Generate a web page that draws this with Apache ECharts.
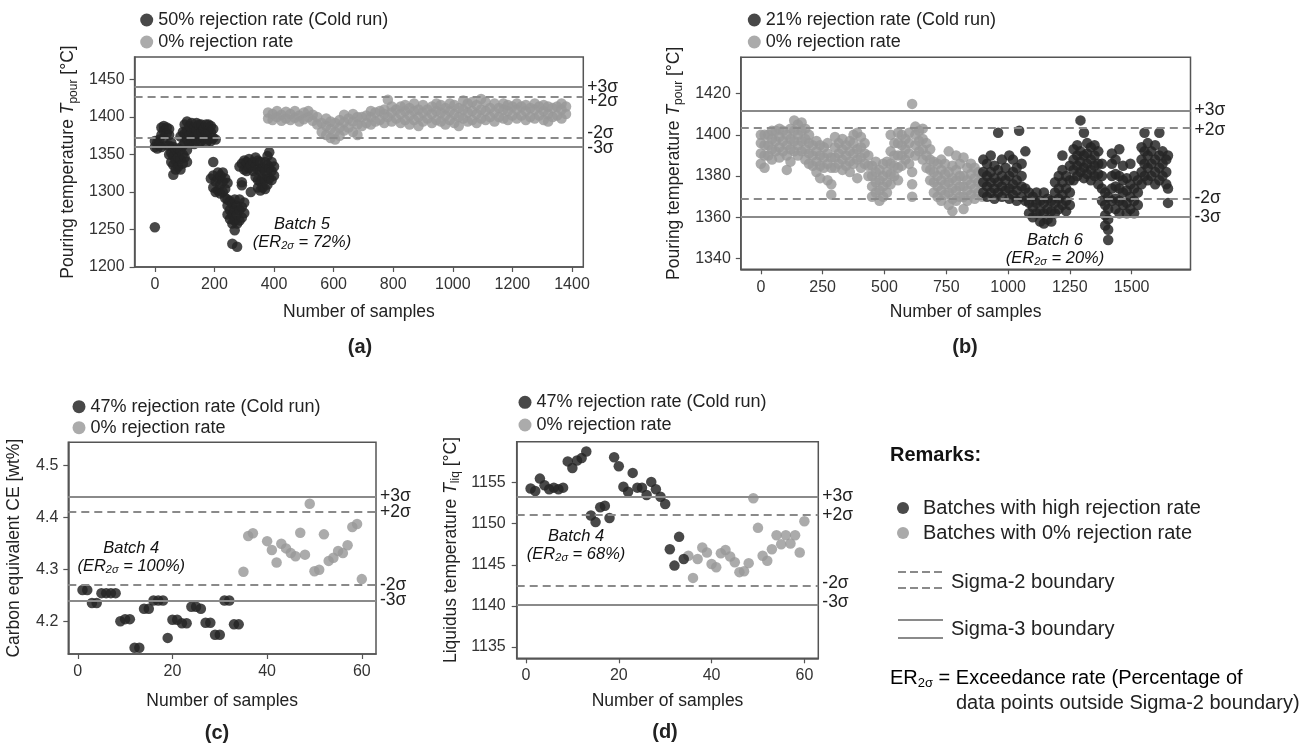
<!DOCTYPE html>
<html>
<head>
<meta charset="utf-8">
<script src="https://cdn.jsdelivr.net/npm/echarts@6.0.0/dist/echarts.min.js"></script>
<style>
html, body { margin: 0; padding: 0; background: #fff; }
#main { width: 1315px; height: 754px; }
</style>
</head>
<body>
<div id="main"></div>
<script>
// (a) Batch 5 - pouring temperature, columns are [sample, value, value, ...]
const aDarkCols = [
  [0, 1253, 1360, 1368], [8, 1358, 1366], [15, 1362, 1370], [22, 1360, 1376, 1386],
  [30, 1372, 1382, 1388], [40, 1362, 1378, 1386], [48, 1350, 1362, 1376, 1384],
  [55, 1340, 1352, 1366], [62, 1323, 1336, 1348, 1360], [70, 1330, 1342, 1356],
  [78, 1334, 1346, 1358], [86, 1330, 1344, 1356, 1374], [94, 1338, 1350, 1362, 1380],
  [100, 1346, 1366, 1378, 1390], [108, 1340, 1356, 1370, 1382, 1394], [116, 1366, 1376, 1388],
  [124, 1368, 1380, 1392], [132, 1364, 1374, 1386], [140, 1370, 1382, 1392],
  [148, 1366, 1378, 1390], [156, 1368, 1380, 1390], [164, 1372, 1384], [172, 1366, 1378, 1390],
  [180, 1370, 1382, 1390], [188, 1318, 1368, 1380, 1388], [196, 1306, 1322, 1340, 1372, 1384],
  [204, 1300, 1314, 1370], [212, 1302, 1318, 1326], [220, 1298, 1310, 1322],
  [228, 1300, 1314, 1326], [236, 1292, 1304, 1318], [244, 1270, 1282, 1290, 1312],
  [252, 1264, 1276, 1288], [260, 1231, 1258, 1270, 1284], [268, 1249, 1262, 1276, 1290],
  [276, 1227, 1258, 1270, 1282], [284, 1262, 1276, 1290, 1334], [292, 1266, 1280, 1309, 1313, 1338],
  [300, 1272, 1286, 1330, 1342], [308, 1328, 1340], [316, 1332, 1344], [322, 1300, 1336],
  [330, 1328, 1340], [338, 1320, 1334, 1346], [346, 1306, 1316, 1330, 1342],
  [354, 1302, 1314, 1328, 1340], [362, 1306, 1318, 1332], [370, 1304, 1316, 1328, 1340],
  [378, 1310, 1322, 1336, 1348], [384, 1318, 1332, 1353], [392, 1316, 1328, 1340], [400, 1322, 1334]
];
const aLightCols = [
  [380, 1398, 1406], [395, 1396, 1404], [410, 1400, 1408], [425, 1395, 1403], [440, 1398, 1407],
  [455, 1396, 1404], [470, 1399, 1408], [485, 1394, 1402], [500, 1397, 1406], [515, 1400, 1408],
  [530, 1395, 1403], [545, 1390, 1400], [560, 1380, 1392], [575, 1376, 1388, 1398],
  [590, 1372, 1384, 1394], [605, 1370, 1380, 1392], [620, 1375, 1386, 1396], [635, 1382, 1393, 1403],
  [650, 1386, 1398], [665, 1380, 1394, 1404], [680, 1376, 1390, 1400], [695, 1388, 1400],
  [710, 1392, 1402], [725, 1390, 1400, 1408], [740, 1394, 1406], [755, 1396, 1408],
  [770, 1392, 1404, 1410], [782, 1400, 1423], [795, 1394, 1406, 1414], [810, 1398, 1410],
  [825, 1392, 1404, 1414], [840, 1396, 1408, 1416], [855, 1390, 1402, 1412], [870, 1396, 1408, 1418],
  [885, 1388, 1400, 1410], [900, 1394, 1406, 1416], [915, 1398, 1410], [930, 1392, 1404, 1414],
  [945, 1396, 1408, 1418], [960, 1394, 1406, 1416], [975, 1390, 1402, 1412], [990, 1396, 1408, 1418],
  [1005, 1392, 1404, 1416], [1020, 1388, 1400, 1412], [1035, 1398, 1410, 1422], [1050, 1394, 1406, 1418],
  [1065, 1396, 1408, 1420], [1080, 1392, 1404, 1416], [1095, 1398, 1410, 1424], [1110, 1396, 1408, 1420],
  [1125, 1400, 1412], [1140, 1394, 1406, 1418], [1155, 1400, 1412], [1170, 1398, 1410, 1418],
  [1185, 1396, 1408, 1416], [1200, 1402, 1414], [1215, 1398, 1410, 1418], [1230, 1402, 1414],
  [1245, 1396, 1408, 1416], [1260, 1400, 1412], [1275, 1398, 1410, 1418], [1290, 1402, 1414],
  [1305, 1396, 1408, 1416], [1320, 1394, 1404, 1414], [1335, 1400, 1412], [1350, 1402, 1414],
  [1365, 1398, 1410, 1418], [1380, 1404, 1414]
];
const aSigma = [1440, 1427, 1373, 1361];
const aXTicks = [0, 200, 400, 600, 800, 1000, 1200, 1400];
const aYTicks = [1200, 1250, 1300, 1350, 1400, 1450];

// (b) Batch 6 - pouring temperature
const bLightCols = [
  [0, 1386, 1391, 1396, 1400], [15, 1384, 1390, 1395, 1400], [30, 1390, 1395, 1400],
  [45, 1388, 1393, 1398, 1402], [60, 1392, 1397, 1402], [75, 1389, 1394, 1399, 1403],
  [90, 1392, 1397, 1402], [105, 1383, 1390, 1395, 1400], [120, 1387, 1393, 1398, 1403],
  [135, 1392, 1397, 1402, 1407], [150, 1390, 1395, 1400, 1405], [165, 1392, 1397, 1402, 1406],
  [180, 1388, 1393, 1398, 1403], [195, 1386, 1391, 1396, 1400], [210, 1385, 1390, 1395],
  [225, 1382, 1387, 1392, 1397], [240, 1379, 1385, 1390, 1395], [255, 1384, 1389, 1394],
  [270, 1378, 1386, 1391, 1396], [285, 1371, 1376, 1384, 1389], [300, 1384, 1389, 1394, 1399],
  [315, 1386, 1391, 1396], [330, 1383, 1388, 1393, 1398], [345, 1385, 1390, 1395],
  [360, 1382, 1387, 1392, 1397], [375, 1386, 1391, 1396, 1400], [390, 1379, 1388, 1393, 1401],
  [405, 1384, 1389, 1394, 1399], [420, 1386, 1391, 1396], [435, 1380, 1385, 1390],
  [450, 1370, 1375, 1380, 1385], [465, 1372, 1377, 1382, 1387], [480, 1368, 1373, 1378, 1383],
  [495, 1370, 1375, 1380, 1386], [510, 1372, 1377, 1382, 1387], [525, 1376, 1381, 1386, 1392, 1400],
  [540, 1380, 1385, 1390, 1396], [555, 1378, 1384, 1390, 1396, 1401], [570, 1385, 1390, 1395, 1400],
  [585, 1388, 1393, 1398], [600, 1386, 1391, 1396, 1401], [612, 1370, 1376, 1382, 1415],
  [625, 1390, 1395, 1400, 1404], [640, 1392, 1397, 1402], [655, 1388, 1393, 1398, 1403],
  [670, 1384, 1390, 1396], [685, 1378, 1383, 1388, 1393], [700, 1372, 1377, 1382, 1387],
  [715, 1370, 1375, 1380, 1386], [730, 1368, 1373, 1378, 1383, 1388], [745, 1371, 1376, 1381, 1386],
  [760, 1366, 1372, 1377, 1382, 1392], [775, 1363, 1369, 1374, 1379, 1385],
  [790, 1368, 1373, 1378, 1383, 1390], [805, 1370, 1375, 1380, 1386],
  [820, 1364, 1370, 1375, 1380, 1389], [835, 1368, 1373, 1378, 1384], [850, 1371, 1376, 1381, 1386],
  [865, 1369, 1374, 1379, 1384], [880, 1372, 1377, 1382], [895, 1370, 1376, 1381]
];
const bDarkCols = [
  [900, 1372, 1377, 1382, 1388], [915, 1370, 1375, 1380, 1386], [930, 1372, 1377, 1382, 1390],
  [945, 1369, 1374, 1379, 1385], [960, 1372, 1377, 1383, 1401], [975, 1370, 1375, 1380, 1388],
  [990, 1373, 1378, 1384], [1005, 1369, 1374, 1380, 1390], [1020, 1371, 1376, 1382, 1388],
  [1035, 1368, 1373, 1378, 1384], [1045, 1402], [1055, 1370, 1375, 1380, 1386],
  [1070, 1368, 1374, 1392], [1085, 1362, 1367, 1372], [1100, 1360, 1365, 1370],
  [1115, 1362, 1367, 1372], [1130, 1358, 1363, 1368], [1145, 1357, 1362, 1367, 1372],
  [1160, 1359, 1364, 1369], [1175, 1358, 1363, 1368], [1190, 1362, 1367, 1372, 1377],
  [1205, 1364, 1369, 1374, 1380], [1220, 1366, 1371, 1377, 1383, 1390], [1235, 1363, 1368, 1374, 1380],
  [1250, 1366, 1372, 1378, 1385], [1265, 1378, 1383, 1388, 1393], [1280, 1380, 1385, 1390, 1395],
  [1293, 1382, 1387, 1392, 1407], [1307, 1379, 1384, 1390, 1401], [1320, 1381, 1386, 1391, 1396],
  [1335, 1378, 1383, 1388, 1394], [1350, 1380, 1385, 1390, 1395], [1365, 1376, 1381, 1386, 1392],
  [1380, 1368, 1374, 1380, 1386], [1393, 1356, 1361, 1366, 1372], [1405, 1349, 1354, 1359, 1364, 1370],
  [1420, 1368, 1374, 1380, 1386, 1391], [1435, 1364, 1369, 1375, 1381, 1388],
  [1450, 1362, 1368, 1374, 1380, 1393], [1465, 1366, 1372, 1378, 1385], [1480, 1362, 1367, 1373, 1379],
  [1495, 1364, 1370, 1376, 1386], [1510, 1362, 1368, 1374, 1380], [1525, 1366, 1372, 1378],
  [1540, 1376, 1382, 1388, 1394], [1552, 1380, 1386, 1392, 1401], [1565, 1378, 1384, 1390, 1396],
  [1580, 1380, 1386, 1392], [1595, 1376, 1382, 1388, 1395], [1612, 1378, 1384, 1390, 1401],
  [1625, 1380, 1386, 1392], [1640, 1376, 1382, 1388], [1647, 1367, 1374, 1390]
];
const bSigma = [1411.9, 1403.3, 1369.2, 1360.2];
const bXTicks = [0, 250, 500, 750, 1000, 1250, 1500];
const bYTicks = [1340, 1360, 1380, 1400, 1420];

// (c) Batch 4 - carbon equivalent
const cDarkX = [1, 2, 3, 4, 5, 6, 7, 8, 9, 10, 11, 12, 13, 14, 15, 16, 17, 18, 19, 20, 21, 22, 23, 24, 25, 26, 27, 28, 29, 30, 31, 32, 33, 34];
const cDarkY = [4.26, 4.26, 4.235, 4.235, 4.254, 4.254, 4.254, 4.254, 4.2, 4.204, 4.204, 4.149, 4.149, 4.224, 4.224,
  4.24, 4.24, 4.24, 4.168, 4.203, 4.203, 4.196, 4.196, 4.228, 4.228, 4.224, 4.197, 4.197, 4.174, 4.174,
  4.24, 4.24, 4.194, 4.194];
const cLightX = [35, 36, 37, 40, 41, 42, 43, 44, 45, 46, 47, 48, 49, 50, 51, 52, 53, 54, 55, 56, 57, 58, 59, 60];
const cLightY = [4.295, 4.364, 4.369, 4.354, 4.337, 4.313, 4.349, 4.34, 4.331, 4.325, 4.37, 4.328, 4.426,
  4.296, 4.299, 4.367, 4.316, 4.322, 4.335, 4.331, 4.346, 4.381, 4.387, 4.281];
const cSigma = [4.44, 4.407, 4.274, 4.24];
const cXTicks = [0, 20, 40, 60];
const cYTicks = [4.2, 4.3, 4.4, 4.5];

// (d) Batch 4 - liquidus temperature
const dDarkX = cDarkX;
const dDarkY = [1154.3, 1154.0, 1155.5, 1154.7, 1154.2, 1154.4, 1154.2, 1154.4, 1157.6, 1156.8, 1157.7, 1158.0,
  1158.8, 1151.0, 1150.2, 1152.0, 1152.2, 1150.7, 1158.1, 1157.0, 1154.5, 1153.9, 1156.2, 1154.4, 1154.4,
  1153.5, 1155.1, 1154.2, 1153.3, 1152.4, 1146.9, 1144.9, 1148.4, 1145.7];
const dLightX = [35, 36, 37, 38, 39, 40, 41, 42, 43, 44, 45, 46, 47, 48, 49, 50, 51, 52, 53, 54, 55, 56, 57, 58, 59, 60];
const dLightY = [1146.1, 1143.4, 1145.7, 1147.1, 1146.5, 1145.1, 1144.7, 1146.4, 1146.8, 1146.0, 1145.3, 1144.1,
  1144.2, 1145.2, 1153.1, 1149.5, 1146.1, 1145.5, 1146.9, 1148.6, 1147.5, 1148.6, 1147.6, 1148.6, 1146.5, 1150.3];
const dSigma = [1153.3, 1151.1, 1142.4, 1140.1];
const dXTicks = [0, 20, 40, 60];
const dYTicks = [1135, 1140, 1145, 1150, 1155];

const sigmaNames = ['+3σ', '+2σ', '-2σ', '-3σ'];
const FONT = '"Liberation Sans", Arial, sans-serif';
const DARK = '#252525';
const LIGHT = '#999999';

function flatten(cols) {
  const pts = [];
  cols.forEach(c => { for (let i = 1; i < c.length; i++) pts.push([c[0], c[i]]); });
  return pts;
}
function zip(xs, ys) { return xs.map((x, i) => [x, ys[i]]); }

// nudge a sigma label up/down by s px (positive = down)
function sigmaLabel(name, s) {
  const lab = { formatter: name };
  if (s > 0) { lab.verticalAlign = 'top'; lab.lineHeight = 2 * s; }
  else if (s < 0) { lab.verticalAlign = 'bottom'; lab.lineHeight = -2 * s; }
  return lab;
}

const subRich = {
  n: { fontSize: 17.5, lineHeight: 22, fontFamily: FONT, color: '#222' },
  it: { fontSize: 17.5, lineHeight: 22, fontStyle: 'italic', fontFamily: FONT, color: '#222' },
  sub: { fontSize: 12, lineHeight: 12, verticalAlign: 'bottom', fontFamily: FONT, color: '#222' }
};

const panels = [
  { grid: { left: 134.6, top: 57, width: 448.7, height: 210 }, x: [-68, 1438], y: [1200, 1480],
    xTicks: aXTicks, yTicks: aYTicks, xGap: 36, yGap: 55, xMargin: 10, yMargin: 10,
    yName: '{n|Pouring temperature }{it|T}{sub|pour}{n| [°C]}',
    dark: flatten(aDarkCols), light: flatten(aLightCols), sigma: aSigma, shifts: [0, 4.5, -4.5, 1.5],
    darkName: '50% rejection rate (Cold run)', legend: { left: 135.2, top: 5, itemGap: 2 },
    note: [494, 1245], noteText: ['Batch 5', '72%'] },
  { grid: { left: 740.8, top: 57.3, width: 449.7, height: 212 }, x: [-81, 1738], y: [1334.8, 1437.6],
    xTicks: bXTicks, yTicks: bYTicks, xGap: 34, yGap: 56, xMargin: 10, yMargin: 10,
    yName: '{n|Pouring temperature }{it|T}{sub|pour}{n| [°C]}',
    dark: flatten(bDarkCols), light: flatten(bLightCols), sigma: bSigma, shifts: [0, 2, 0, 0],
    darkName: '21% rejection rate (Cold run)', legend: { left: 742.8, top: 5, itemGap: 2 },
    note: [1190, 1344.5], noteText: ['Batch 6', '20%'] },
  { grid: { left: 68.3, top: 442.3, width: 307.7, height: 211.7 }, x: [-2, 63], y: [4.137, 4.544],
    xTicks: cXTicks, yTicks: cYTicks, xGap: 38, yGap: 43, xMargin: 10, yMargin: 10,
    yName: '{n|Carbon equivalent CE [wt%]}',
    dark: zip(cDarkX, cDarkY), light: zip(cLightX, cLightY), sigma: cSigma, shifts: [0, 0, 0, 0],
    darkName: '47% rejection rate (Cold run)', legend: { left: 67.5, top: 391.7, itemGap: 1 },
    note: [11.3, 4.322], noteText: ['Batch 4', '100%'] },
  { grid: { left: 516.7, top: 441.7, width: 301.6, height: 216.6 }, x: [-2, 63], y: [1133.6, 1160],
    xTicks: dXTicks, yTicks: dYTicks, xGap: 34, yGap: 55, xMargin: 9, yMargin: 11,
    yName: '{n|Liquidus temperature }{it|T}{sub|liq}{n| [°C]}',
    dark: zip(dDarkX, dDarkY), light: zip(dLightX, dLightY), sigma: dSigma, shifts: [0, 0, -3, -2.5],
    darkName: '47% rejection rate (Cold run)', legend: { left: 513.5, top: 387.3, itemGap: 2.7 },
    note: [10.8, 1147.4], noteText: ['Batch 4', '68%'] }
];

const grids = [], xAxes = [], yAxes = [], series = [], legends = [];
const axisCommon = {
  axisLine: { show: true, onZero: false, lineStyle: { color: '#555', width: 1.5 } },
  axisTick: { show: true, length: 5, lineStyle: { color: '#555', width: 1.2 } },
  splitLine: { show: false }
};

panels.forEach((p, i) => {
  grids.push(Object.assign({ show: true, borderColor: '#555', borderWidth: 1.5, backgroundColor: '#fff' }, p.grid));
  xAxes.push(Object.assign({}, axisCommon, {
    type: 'value', gridIndex: i, min: p.x[0], max: p.x[1],
    axisTick: Object.assign({}, axisCommon.axisTick, { customValues: p.xTicks }),
    axisLabel: { customValues: p.xTicks, formatter: v => String(v), fontSize: 16, color: '#333',
      fontFamily: FONT, margin: p.xMargin },
    name: 'Number of samples', nameLocation: 'middle', nameGap: p.xGap,
    nameTextStyle: { fontSize: 17.5, color: '#222', fontFamily: FONT }
  }));
  yAxes.push(Object.assign({}, axisCommon, {
    type: 'value', gridIndex: i, min: p.y[0], max: p.y[1],
    axisTick: Object.assign({}, axisCommon.axisTick, { customValues: p.yTicks }),
    axisLabel: { customValues: p.yTicks, formatter: v => String(v), fontSize: 16, color: '#333',
      fontFamily: FONT, margin: p.yMargin },
    name: p.yName, nameLocation: 'middle', nameGap: p.yGap,
    nameTextStyle: { rich: subRich }
  }));
  series.push({
    type: 'scatter', name: '0% rejection rate', xAxisIndex: i, yAxisIndex: i,
    data: p.light, symbolSize: 10.5, itemStyle: { color: LIGHT, opacity: 0.82 }
  });
  series.push({
    type: 'scatter', name: p.darkName, xAxisIndex: i, yAxisIndex: i,
    data: p.dark, symbolSize: 10.5, itemStyle: { color: DARK, opacity: 0.84 },
    markLine: {
      silent: true, symbol: ['none', 'none'], animation: false,
      label: { show: true, position: 'end', color: '#222', fontSize: 17.5, fontFamily: FONT, distance: 4 },
      data: p.sigma.map((v, k) => ({
        yAxis: v,
        lineStyle: { type: (k === 1 || k === 2) ? [8, 5] : 'solid', color: '#8a8a8a', width: 2.2 },
        label: sigmaLabel(sigmaNames[k], p.shifts[k])
      }))
    }
  });
  series.push({
    type: 'scatter', name: 'note' + i, xAxisIndex: i, yAxisIndex: i, silent: true,
    data: [p.note], symbolSize: 1, itemStyle: { color: 'rgba(0,0,0,0)' },
    label: {
      show: true, position: 'inside', align: 'center', opacity: 1,
      formatter: '{it|' + p.noteText[0] + '}\n{it|(ER}{sub|2σ}{it| = ' + p.noteText[1] + ')}',
      rich: {
        it: { fontSize: 16.5, lineHeight: 18, fontStyle: 'italic', fontFamily: FONT, color: '#111' },
        sub: { fontSize: 11, lineHeight: 10, fontStyle: 'italic', verticalAlign: 'bottom', fontFamily: FONT, color: '#111' }
      }
    }
  });
  legends.push({
    data: [p.darkName, '0% rejection rate'], orient: 'vertical', left: p.legend.left, top: p.legend.top,
    itemGap: p.legend.itemGap, itemWidth: 13, itemHeight: 13, icon: 'circle', selectedMode: false,
    textStyle: { fontSize: 18, lineHeight: 20, color: '#222', fontFamily: FONT }
  });
});

function txt(text, x, y, size, extra) {
  return { type: 'text', x: x, y: y, silent: true,
    style: Object.assign({ text: text, fontSize: size, fontFamily: FONT, fill: '#222', verticalAlign: 'middle' }, extra || {}) };
}

const graphics = [
  txt('(a)', 360, 347, 20, { align: 'center', fontWeight: 'bold' }),
  txt('(b)', 965, 347, 20, { align: 'center', fontWeight: 'bold' }),
  txt('(c)', 217, 733, 20, { align: 'center', fontWeight: 'bold' }),
  txt('(d)', 665, 732, 20, { align: 'center', fontWeight: 'bold' }),
  txt('Remarks:', 890, 455, 20, { fontWeight: 'bold', fill: '#111' }),
  { type: 'circle', shape: { cx: 903, cy: 508, r: 6 }, style: { fill: '#4a4a4a' } },
  { type: 'circle', shape: { cx: 903, cy: 533, r: 6 }, style: { fill: '#aaaaaa' } },
  txt('Batches with high rejection rate', 923, 508, 20),
  txt('Batches with 0% rejection rate', 923, 533, 20),
  { type: 'line', shape: { x1: 898, y1: 572, x2: 942, y2: 572 }, style: { stroke: '#8a8a8a', lineWidth: 2, lineDash: [8, 4] } },
  { type: 'line', shape: { x1: 898, y1: 588, x2: 942, y2: 588 }, style: { stroke: '#8a8a8a', lineWidth: 2, lineDash: [8, 4] } },
  txt('Sigma-2 boundary', 951, 582, 20),
  { type: 'line', shape: { x1: 898, y1: 620, x2: 943, y2: 620 }, style: { stroke: '#8a8a8a', lineWidth: 2 } },
  { type: 'line', shape: { x1: 898, y1: 638, x2: 943, y2: 638 }, style: { stroke: '#8a8a8a', lineWidth: 2 } },
  txt('Sigma-3 boundary', 951, 629, 20),
  { type: 'text', x: 890, y: 678, silent: true, style: {
    text: '{a|ER}{s|2σ}{a| = Exceedance rate (Percentage of}', verticalAlign: 'middle',
    rich: { a: { fontSize: 20, lineHeight: 24, fontFamily: FONT, color: '#222' },
            s: { fontSize: 13, lineHeight: 13, verticalAlign: 'bottom', fontFamily: FONT, color: '#222' } } } },
  txt('data points outside Sigma-2 boundary)', 956, 703, 20)
];

const chart = echarts.init(document.getElementById('main'), null, { renderer: 'canvas' });
chart.setOption({
  animation: false,
  backgroundColor: '#fff',
  grid: grids,
  xAxis: xAxes,
  yAxis: yAxes,
  legend: legends,
  series: series,
  graphic: graphics
});
</script>
</body>
</html>
